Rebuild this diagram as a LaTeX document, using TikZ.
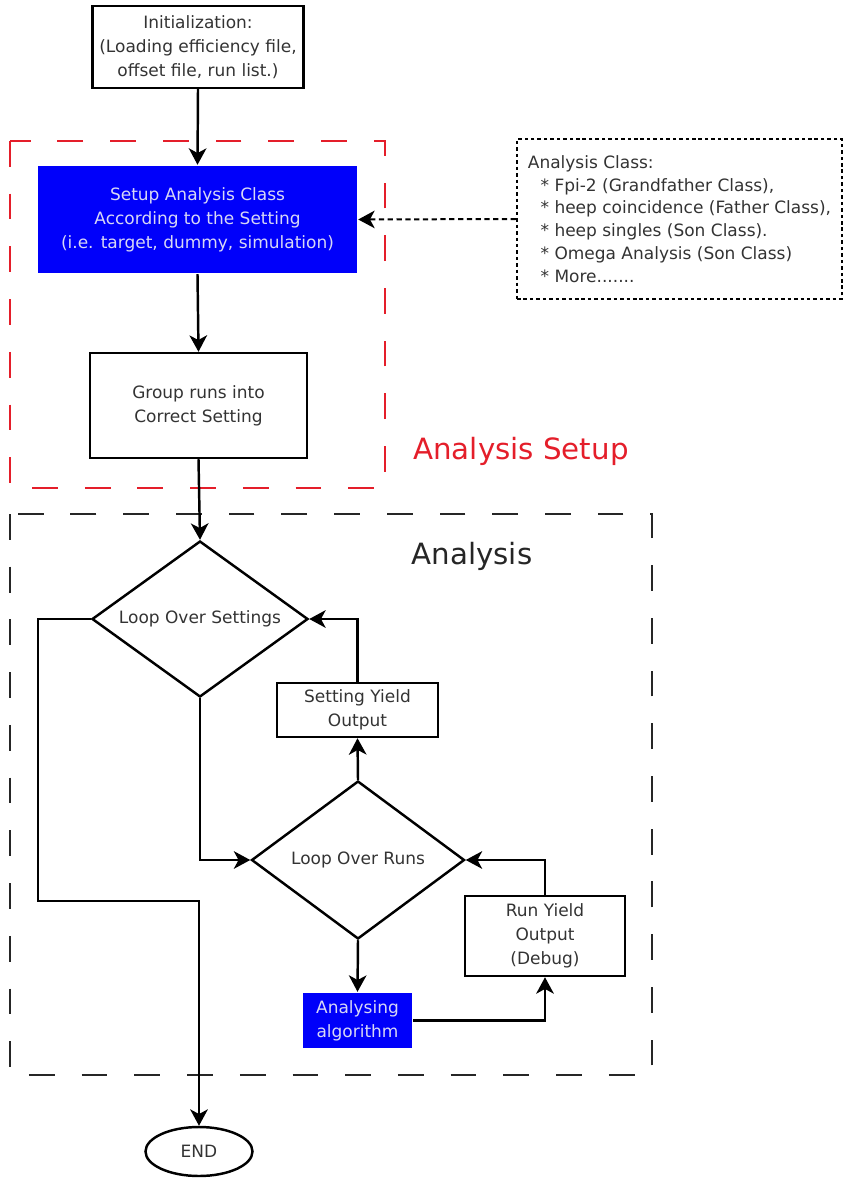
\documentclass[tikz,border=0pt]{standalone}
\usepackage{fontspec}
\setmainfont{DejaVu Sans}
\usetikzlibrary{shapes.geometric,arrows.meta}

\definecolor{boxtext}{RGB}{51,51,51}
\definecolor{setupred}{RGB}{228,30,42}
\definecolor{bluefill}{RGB}{0,0,250}
\definecolor{bluetext}{RGB}{215,215,245}

\tikzset{
  box/.style={draw, line width=2.1pt, text=boxtext, align=center, inner sep=0pt,
    font=\fontsize{14.5}{20.5}\selectfont},
  bluebox/.style={box, draw=none, fill=bluefill, text=bluetext},
  decision/.style={box, diamond, aspect=1.4},
  arr/.style={line width=2.1pt, -{Stealth[length=14pt,width=15pt,inset=4pt]}},
  notebox/.style={box, line width=1.7pt, dash pattern=on 3pt off 2.5pt},
  frame/.style={line width=2.1pt, dash pattern=on 22pt off 23pt},
  bigtext/.style={font=\fontsize{25}{30}\selectfont},
}

\begin{document}
\begin{tikzpicture}[x=0.03cm, y=-0.03cm]
    \useasboundingbox (0,0) rectangle (846,1178);

    % frames
    \draw[frame, setupred] (10,141) rectangle (385,488);
    \draw[frame, black!85] (10,514) rectangle (652,1075);
    \node[bigtext, text=setupred] (setuplbl) at (521,451) {Analysis Setup};
    \node[bigtext, text=black!85] (analbl) at (472,556) {Analysis};

    % setup part
    \node[box, minimum width=6.33cm, minimum height=2.46cm] (init) at (198,47)
        {Initialization:\\(Loading efficiency file,\\offset file, run list.)};
    \node[bluebox, minimum width=9.57cm, minimum height=3.21cm] (setup) at (197.5,219.5)
        {Setup Analysis Class\\According to the Setting\\(i.e. target, dummy, simulation)};
    \node[box, minimum width=6.51cm, minimum height=3.15cm] (group) at (198.5,405.5)
        {Group runs into\\Correct Setting};
    \node[notebox, minimum width=9.75cm, minimum height=4.8cm, align=left,
          font=\fontsize{14.5}{19.5}\selectfont] (note) at (679.5,219)
        {Analysis Class:\\
         \hspace*{0.75em}* Fpi-2 (Grandfather Class),\\
         \hspace*{0.75em}* heep coincidence (Father Class),\\
         \hspace*{0.75em}* heep singles (Son Class).\\
         \hspace*{0.75em}* Omega Analysis (Son Class)\\
         \hspace*{0.75em}* More.......};

    % analysis part
    \node[decision, minimum width=6.48cm, minimum height=4.68cm] (setloop) at (200,619) {Loop Over Settings};
    \node[box, minimum width=4.83cm, minimum height=1.62cm] (setyield) at (357.5,710) {Setting Yield\\Output};
    \node[decision, minimum width=6.39cm, minimum height=4.74cm] (runloop) at (358,860) {Loop Over Runs};
    \node[box, minimum width=4.8cm, minimum height=2.4cm] (runyield) at (545,936) {Run Yield\\Output\\(Debug)};
    \node[bluebox, minimum width=3.27cm, minimum height=1.65cm] (algo) at (357.5,1020.5) {Analysing\\algorithm};
    \node[box, ellipse, minimum width=3.21cm, minimum height=1.47cm] (fin) at (199,1151.5) {END};
    \coordinate (bend) at (38,901);

    \draw[arr] (init.south) -- (setup.north);
    \draw[arr] (setup.south) -- (group.north);
    \draw[arr] (group.south) -- (setloop.north);
    \draw[arr, line width=1.7pt, dash pattern=on 4.5pt off 3pt] (note.west) -- (setup.east);

    \draw[arr] (setloop.south) |- (runloop.west);
    \draw[arr] (setloop.west) -| (bend) -| (fin.north);
    \draw[arr] (runloop.north) -- (setyield.south);
    \draw[arr] (setyield.north) |- (setloop.east);
    \draw[arr] (runloop.south) -- (algo.north);
    \draw[arr] (algo.east) -| (runyield.south);
    \draw[arr] (runyield.north) |- (runloop.east);
\end{tikzpicture}
\end{document}
